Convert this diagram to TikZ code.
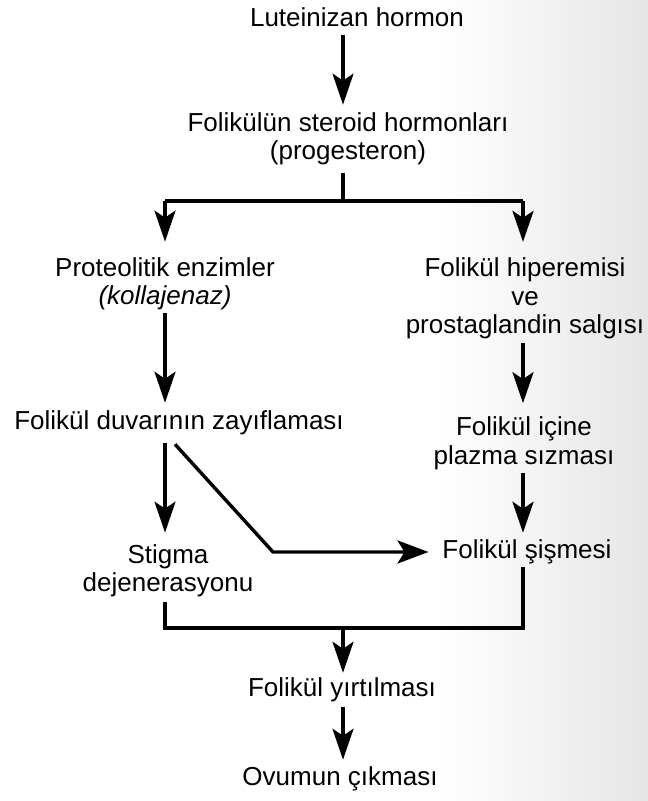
\documentclass[tikz,border=0pt]{standalone}
\usepackage{fontspec}
\setmainfont{Liberation Sans}
\usetikzlibrary{arrows.meta}
\begin{document}
\begin{tikzpicture}[x=1pt,y=-1pt,
  txt/.style={inner sep=0pt, outer sep=0pt, font=\fontsize{26}{28.5}\selectfont, text=black},
  one/.style={txt, text height=19pt, text depth=5.5pt},
  multi/.style={txt, align=center},
  ln/.style={line width=3.4pt, draw=black},
  arr/.style={ln, -{Stealth[length=31pt,width=21pt,inset=7pt]}}
]
\useasboundingbox (0,0) rectangle (648,801);
\fill[white] (0,0) rectangle (648,801);
\shade[left color=white, right color=black!10] (440,0) rectangle (648,801);

% nodes
\node[one]   (lh)  at (357,20)  {Luteinizan hormon};
\node[multi] (fs)  at (348,139) {Folikülün steroid hormonları\\(progesteron)};
\node[multi] (pe)  at (165,284) {Proteolitik enzimler\\{\itshape (kollajenaz)}};
\node[multi] (fh)  at (525,298.5) {Folikül hiperemisi\\ve\\prostaglandin salgısı};
\node[one]   (fd)  at (179,423) {Folikül duvarının zayıflaması};
\node[multi] (fi)  at (524,443.5) {Folikül içine\\plazma sızması};
\node[multi] (st)  at (168,571) {Stigma\\dejenerasyonu};
\node[one]   (fsm) at (527,552) {Folikül şişmesi};
\node[one]   (fy)  at (342,690) {Folikül yırtılması};
\node[one]   (oc)  at (340,779) {Ovumun çıkması};

% junctions
\coordinate (j1) at (343,201);
\coordinate (jl) at (165,201);
\coordinate (jr) at (523,201);
\coordinate (j2) at (165,628);
\coordinate (j3) at (523,628);
\coordinate (j4) at (343,628);
\coordinate (k)  at (273,552);

% connectors
\draw[arr, shorten <=3pt, shorten >=8pt] (lh.south -| j1) -- (fs.north -| j1);
\draw[ln, shorten <=8pt] (fs.south -| j1) -- (j1);
\draw[ln] (jl) -- (jr);
\draw[arr, shorten >=16pt] (jl) -- (pe.north -| jl);
\draw[arr, shorten >=16pt] (jr) -- (fh.north -| jr);
\draw[arr, shorten <=3pt, shorten >=8pt] (pe.south -| jl) -- (fd.north -| jl);
\draw[arr, shorten <=4pt, shorten >=14pt] (fh.south -| jr) -- (fi.north -| jr);
\draw[arr, shorten <=8pt, shorten >=12pt] (fd.south -| jl) -- (st.north -| jl);
\draw[arr, shorten <=3pt, shorten >=7pt] (fi.south -| jr) -- (fsm.north -| jr);
\draw[ln, -{Stealth[length=31pt,width=23pt,inset=7pt]}, shorten >=14pt] ([shift={(-4pt,-9pt)}]fd.south) -- (k) -- (fsm.west);
\draw[ln, shorten <=5pt, shorten >=3pt] (st.south -| j2) -- (j2) -- (j3) -- (fsm.south -| j3);
\draw[arr, shorten >=5pt] (j4) -- (fy.north -| j4);
\draw[arr, shorten <=5pt, shorten >=7pt] (fy.south -| j4) -- (oc.north -| j4);
\end{tikzpicture}
\end{document}
